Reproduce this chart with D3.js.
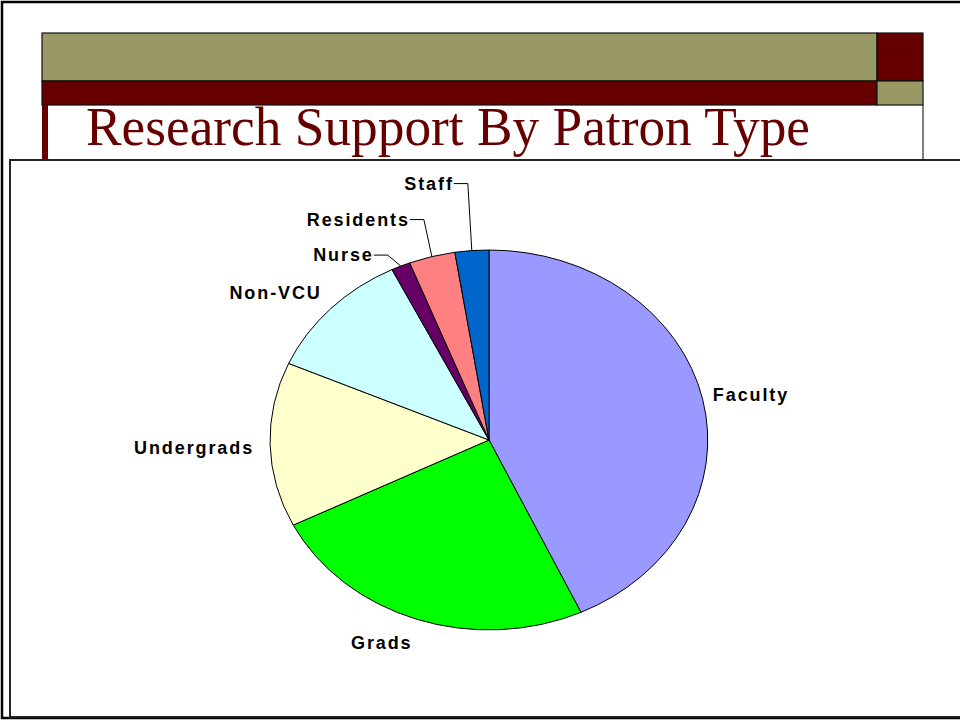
<!DOCTYPE html>
<html>
<head>
<meta charset="utf-8">
<script src="https://cdn.jsdelivr.net/npm/d3@7"></script>
<style>
  body { margin: 0; background: #fff; }
  svg { display: block; }
</style>
</head>
<body>
<svg id="svg" width="960" height="721"></svg>
<script>
// data (percent of requests)
var categories = ["Faculty", "Grads", "Undergrads", "Non-VCU", "Nurse", "Residents", "Staff"];
var shares     = [43.1, 24.5, 14.0, 11.1, 1.4, 3.4, 2.5];
var colours    = ["#9999ff", "#00ff00", "#ffffcc", "#ccffff", "#660066", "#ff8080", "#0066cc"];
var title = "Research Support By Patron Type";

var svg = d3.select("#svg");
var olive = "#999966", maroon = "#660000";

// slide frame + header bars
svg.append("rect").attr("x", 2).attr("y", 2).attr("width", 1000).attr("height", 716)
    .attr("fill", "#fff").attr("stroke", "#000").attr("stroke-width", 2.5);

svg.append("line").attr("x1", 923).attr("y1", 105).attr("x2", 923).attr("y2", 162)
    .attr("stroke", "#555").attr("stroke-width", 1.5);

var bars = [
  {x: 42, y: 33, w: 835, h: 48, c: olive},
  {x: 877, y: 33, w: 46, h: 48, c: maroon},
  {x: 42, y: 81, w: 835, h: 24, c: maroon},
  {x: 877, y: 81, w: 46, h: 24, c: olive}
];
svg.selectAll("rect.bar").data(bars).enter().append("rect")
    .attr("class", "bar")
    .attr("x", function(d){ return d.x; })
    .attr("y", function(d){ return d.y; })
    .attr("width", function(d){ return d.w; })
    .attr("height", function(d){ return d.h; })
    .attr("fill", function(d){ return d.c; })
    .attr("stroke", "#111").attr("stroke-width", 1.2);

svg.append("rect").attr("x", 42).attr("y", 105).attr("width", 6).attr("height", 57)
    .attr("fill", maroon);

svg.append("text")
    .attr("x", 86).attr("y", 145)
    .attr("font-family", "Liberation Serif, Times New Roman, serif")
    .attr("font-size", "54px")
    .attr("fill", maroon)
    .attr("textLength", 724)
    .attr("lengthAdjust", "spacingAndGlyphs")
    .text(title);

// chart area box
svg.append("rect").attr("x", 10).attr("y", 160).attr("width", 960).attr("height", 557)
    .attr("fill", "#fff").attr("stroke", "#222").attr("stroke-width", 2);

// pie (elliptical)
var cx = 489, cy = 440, rx = 219, ry = 190;

var pie = d3.pie().sort(null).value(function(d){ return d; });
var arcs = pie(shares);
var arc = d3.arc().innerRadius(0).outerRadius(1);

var g = svg.append("g").attr("transform", "translate(" + cx + "," + cy + ") scale(" + rx + "," + ry + ")");
g.selectAll("path").data(arcs).enter().append("path")
    .attr("d", arc)
    .attr("fill", function(d, i){ return colours[i]; })
    .attr("stroke", "#000")
    .attr("stroke-width", 1)
    .attr("vector-effect", "non-scaling-stroke");

function rim(a) {
  return [cx + rx * Math.sin(a), cy - ry * Math.cos(a)];
}

// label placement relative to the rim point at each slice's mid angle
var labelPlace = {
  "Faculty":    {dx: 10,  dy: 1.5, anchor: "start"},
  "Grads":      {dx: -35, dy: 30,  anchor: "middle"},
  "Undergrads": {dx: -16, dy: 9,   anchor: "end"},
  "Non-VCU":    {dx: -9,  dy: -10, anchor: "end"},
  "Nurse":      {elbow: [-13, -11]},
  "Residents":  {elbow: [-8, -37]},
  "Staff":      {elbow: [-4, -67]}
};

var labels = svg.append("g")
    .attr("font-family", "Liberation Sans, Arial, sans-serif")
    .attr("font-weight", "bold")
    .attr("font-size", "18px")
    .attr("letter-spacing", "1.9px")
    .attr("fill", "#000");

arcs.forEach(function(d, i) {
  var name = categories[i];
  var p = rim((d.startAngle + d.endAngle) / 2);
  var L = labelPlace[name];
  if (L.elbow) {
    var ex = p[0] + L.elbow[0], ey = p[1] + L.elbow[1];
    svg.append("polyline")
        .attr("points", [[p[0], p[1]], [ex, ey], [ex - 14, ey]].join(" "))
        .attr("fill", "none").attr("stroke", "#000").attr("stroke-width", 1);
    labels.append("text")
        .attr("x", ex - 14).attr("y", ey + 6)
        .attr("text-anchor", "end")
        .text(name);
  } else {
    labels.append("text")
        .attr("x", p[0] + L.dx).attr("y", p[1] + L.dy)
        .attr("text-anchor", L.anchor)
        .text(name);
  }
});
</script>
</body>
</html>
